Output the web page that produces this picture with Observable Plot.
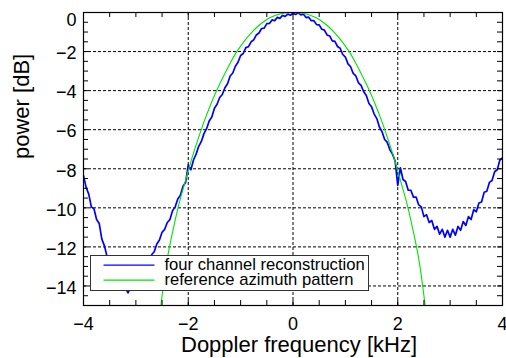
<!DOCTYPE html>
<html>
<head>
<meta charset="utf-8">
<script src="https://cdn.jsdelivr.net/npm/d3@7"></script>
<script src="https://cdn.jsdelivr.net/npm/@observablehq/plot@0.6"></script>
<style>
  html, body { margin: 0; padding: 0; background: #fff; }
  #wrap { position: relative; width: 506px; height: 358px; font-family: "Liberation Sans", Arial, Helvetica, sans-serif; }
  #legend { position: absolute; left: 90px; top: 255px; width: 279px; height: 36px; box-sizing: border-box;
            border: 1.5px solid #333; background: #fff; }
  #legend svg { position: absolute; left: 0; top: 0; overflow: visible; }
</style>
</head>
<body>
<div id="wrap"></div>
<script>
// ---- data ----
const seriesNames = ["four channel reconstruction", "reference azimuth pattern"];
const seriesColors = ["#0000ff", "#00e400"];

// four channel reconstruction, sampled every 0.05 kHz from -4 to 4
const blueFreq = d3.range(0, 161).map(i => -4 + i * 0.05);
const bluePower = [
  -8.35, -8.95, -9.3, -9.95, -10.05, -10.6, -10.8, -11.6, -11.95, -12.5,
  -12.7, -13.2, -13.4, -13.8, -13.9, -14.15, -14.1, -14.35, -14.05, -14.05,
  -13.8, -13.7, -13.4, -13.25, -12.9, -12.75, -12.4, -12.25, -11.85, -11.65,
  -11.25, -11.1, -10.75, -10.6, -10.15, -9.95, -9.55, -9.35, -8.9, -8.7,
  -7.8, -8.05, -7.55, -7.25, -6.85, -6.6, -6.2, -5.95, -5.55, -5.35,
  -4.9, -4.7, -4.35, -4.2, -3.85, -3.65, -3.25, -3.1, -2.75, -2.55,
  -2.2, -2.1, -1.8, -1.75, -1.5, -1.4, -1.15, -1.05, -0.82, -0.8,
  -0.57, -0.56, -0.38, -0.42, -0.25, -0.3, -0.15, -0.2, -0.08, -0.14,
  -0.04, -0.1, -0.02, -0.12, -0.09, -0.26, -0.24, -0.42, -0.42, -0.62,
  -0.63, -0.86, -0.9, -1.15, -1.2, -1.45, -1.48, -1.74, -1.83, -2.15,
  -2.28, -2.63, -2.78, -3.12, -3.25, -3.6, -3.73, -4.06, -4.25, -4.66,
  -4.83, -5.2, -5.43, -5.86, -6.1, -6.5, -6.65, -7.03, -7.25, -7.6,
  -8.85, -7.95, -8.55, -8.65, -9.1, -9.1, -9.45, -9.45, -9.85, -9.95,
  -10.45, -10.35, -10.75, -10.65, -11.1, -10.95, -11.35, -11.1, -11.5, -11.15,
  -11.5, -11.1, -11.4, -10.95, -11.15, -10.7, -10.9, -10.45, -10.6, -10.1,
  -10.2, -9.75, -9.7, -9.2, -9.15, -8.7, -8.6, -8.15, -8.05, -7.55,
  -7.45
];

// reference azimuth pattern, sampled every 0.1 kHz from -2.6 to 2.6
const greenFreq = d3.range(0, 53).map(i => -2.6 + i * 0.1);
const greenPower = [
  -16.8, -14.5, -12.6, -11.25, -10.05, -9.05, -8.1, -7.2, -6.38, -5.6,
  -4.9, -4.25, -3.66, -3.12, -2.6, -2.12, -1.72, -1.36, -1.05, -0.78,
  -0.55, -0.36, -0.22, -0.12, -0.05, -0.01, 0,
  -0.01, -0.05, -0.12, -0.22, -0.36, -0.55, -0.78, -1.05, -1.36, -1.72,
  -2.12, -2.6, -3.12, -3.66, -4.25, -4.9, -5.6, -6.38, -7.2, -8.1,
  -9.05, -10.05, -11.25, -12.6, -14.5, -16.8
];

const xTicks = [-4, -2, 0, 2, 4];
const yTicks = [-14, -12, -10, -8, -6, -4, -2];
const yTopTick = [0];
const xGrid = [-2, 0, 2];
const yGrid = [-14, -12, -10, -8, -6, -4, -2];
const xMinor = d3.range(-3.5, 4, 0.5);
const yMinor = d3.range(-14.5, 0, 0.5);

const xLabel = "Doppler frequency [kHz]";
const yLabel = "power [dB]";

// ---- build ----
const blue = blueFreq.map((f, i) => ({f, p: bluePower[i]}));
const green = greenFreq.map((f, i) => ({f, p: greenPower[i]}));
const fmt = d => d < 0 ? "\u2212" + Math.abs(d) : String(d);

const W = 506, H = 358, mL = 83, mR = 4, mT = 12, mB = 53;
const innerW = W - mL - mR, innerH = H - mT - mB, tickLen = 5;

const chart = Plot.plot({
  width: W, height: H,
  marginLeft: mL, marginRight: mR, marginTop: mT, marginBottom: mB,
  x: {domain: [-4, 4]},
  y: {domain: [-15, 0]},
  style: {fontFamily: "'Liberation Sans', Arial, Helvetica, sans-serif", background: "#fff", color: "#000"},
  marks: [
    Plot.ruleY(yGrid, {stroke: "#000", strokeWidth: 1, strokeDasharray: "3,2"}),
    Plot.ruleX(xGrid, {stroke: "#000", strokeWidth: 1, strokeDasharray: "3,2"}),
    Plot.line(blue, {x: "f", y: "p", stroke: seriesColors[0], strokeWidth: 1.7, clip: true}),
    Plot.line(green, {x: "f", y: "p", stroke: seriesColors[1], strokeWidth: 1.1, clip: true, curve: "natural"}),
    Plot.tickX(xMinor, {x: d => d, insetTop: innerH - tickLen, stroke: "#000"}),
    Plot.tickX(xMinor, {x: d => d, insetBottom: innerH - tickLen, stroke: "#000"}),
    Plot.tickY(yMinor, {y: d => d, insetRight: innerW - tickLen, stroke: "#000"}),
    Plot.tickY(yMinor, {y: d => d, insetLeft: innerW - tickLen, stroke: "#000"}),
    Plot.frame({stroke: "#000", strokeWidth: 1.2}),
    Plot.axisX(xTicks, {tickSize: 0, tickPadding: 12, fontSize: 18, tickFormat: fmt, label: null}),
    Plot.axisY(yTicks, {tickSize: 0, tickPadding: 7, fontSize: 18, tickFormat: fmt, label: null, dy: 2}),
    Plot.axisY(yTopTick, {tickSize: 0, tickPadding: 7, fontSize: 18, tickFormat: fmt, label: null, dy: 8}),
    Plot.text([xLabel], {frameAnchor: "bottom", text: d => d, fontSize: 22, dy: 46, dx: 6}),
    Plot.text([yLabel], {frameAnchor: "left", text: d => d, fontSize: 22, rotate: -90, dx: -62})
  ]
});

const wrap = document.getElementById("wrap");
wrap.appendChild(chart);

// legend (drawn over the plot, like the original)
const leg = document.createElement("div");
leg.id = "legend";
const ns = "http://www.w3.org/2000/svg";
const lsvg = document.createElementNS(ns, "svg");
lsvg.setAttribute("width", 276);
lsvg.setAttribute("height", 33);
seriesNames.forEach((name, i) => {
  const yy = 9.2 + i * 15;
  const ln = document.createElementNS(ns, "line");
  ln.setAttribute("x1", 12.5); ln.setAttribute("x2", 63.5);
  ln.setAttribute("y1", yy); ln.setAttribute("y2", yy);
  ln.setAttribute("stroke", seriesColors[i]);
  ln.setAttribute("stroke-width", 1.2);
  lsvg.appendChild(ln);
  const tx = document.createElementNS(ns, "text");
  tx.setAttribute("x", 73.5);
  tx.setAttribute("y", yy + 4.7);
  tx.setAttribute("font-size", 16.6);
  tx.setAttribute("font-family", "'Liberation Sans', Arial, Helvetica, sans-serif");
  tx.setAttribute("fill", "#000");
  tx.textContent = name;
  lsvg.appendChild(tx);
});
leg.appendChild(lsvg);
wrap.appendChild(leg);
</script>
</body>
</html>
